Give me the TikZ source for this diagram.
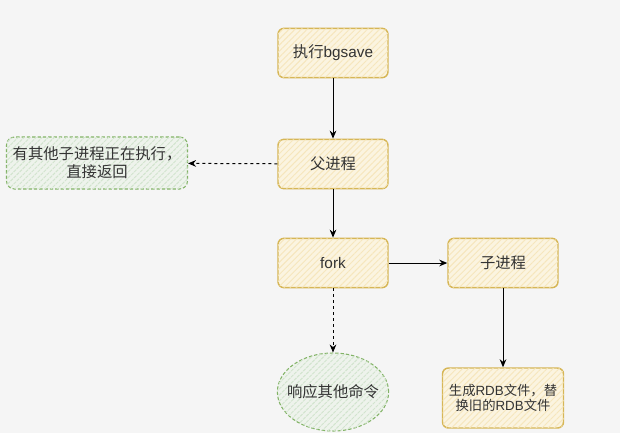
\documentclass[tikz,border=0pt]{standalone}
\usepackage{fontspec}
\setmainfont{Liberation Sans}
\newfontfamily\cjk{Noto Sans CJK SC}
\usetikzlibrary{arrows.meta,patterns.meta,shapes.geometric}
\definecolor{bgc}{HTML}{F5F5F5}
\definecolor{ybord}{HTML}{D6B656}
\definecolor{yfill}{HTML}{FBF4E0}
\definecolor{yhatch}{HTML}{F6E6BC}
\definecolor{gbord}{HTML}{82B366}
\definecolor{gfill}{HTML}{EEF3EC}
\definecolor{ghatch}{HTML}{D2E4CE}
\definecolor{txt}{HTML}{333333}
\tikzset{
  ybox/.style={draw=ybord, line width=1.1pt, rounded corners=4.5pt, fill=yfill,
    minimum width=82.5pt, minimum height=37pt, text=txt, font=\fontsize{11.5}{13.5}\selectfont,
    align=center, inner sep=1pt,
    postaction={pattern={Lines[angle=45,distance=3.2pt,line width=0.7pt]}, pattern color=yhatch}},
  gbox/.style={draw=gbord, line width=0.8pt, dashed, dash pattern=on 2.5pt off 1.5pt, fill=gfill,
    text=txt, font=\fontsize{11.5}{13.5}\selectfont, align=center, inner sep=1pt,
    postaction={pattern={Lines[angle=45,distance=3.2pt,line width=0.7pt]}, pattern color=ghatch}},
  conn/.style={draw=black, line width=0.75pt, -{Stealth[length=6pt,width=5pt]}},
  dconn/.style={conn, dash pattern=on 2.25pt off 2.25pt},
}
\begin{document}
\begin{tikzpicture}[x=0.75pt,y=-0.75pt]
\fill[bgc] (0,0) rectangle (620,433);
\useasboundingbox (0,0) rectangle (620,433);
\node[ybox] (bg) at (333,53) {{\cjk 执行}bgsave};
\node[ybox] (fu) at (333,164) {\cjk 父进程};
\node[ybox] (fork) at (333,263) {fork};
\node[ybox] (zi) at (503,263) {\cjk 子进程};
\node[ybox, minimum width=90.75pt, minimum height=45pt, font=\fontsize{10}{11.5}\selectfont] (rdb) at (503,398) {{\cjk 生成}RDB{\cjk 文件，替}\\{\cjk 换旧的}RDB{\cjk 文件}};
\node[gbox, rounded corners=6pt, minimum width=135.75pt, minimum height=39pt] (other) at (97,163) {\cjk 有其他子进程正在执行，\\\cjk 直接返回};
\node[gbox, ellipse, minimum width=83pt, minimum height=58.5pt, inner xsep=-5pt, inner ysep=0pt] (resp) at (333,392) {\cjk 响应其他命令};
\draw[conn] (bg) -- (fu);
\draw[dconn] (fu) -- (other);
\draw[conn] (fu) -- (fork);
\draw[conn] (fork) -- (zi);
\draw[dconn] (fork) -- (resp);
\draw[conn] (zi) -- (rdb);
\end{tikzpicture}
\end{document}
